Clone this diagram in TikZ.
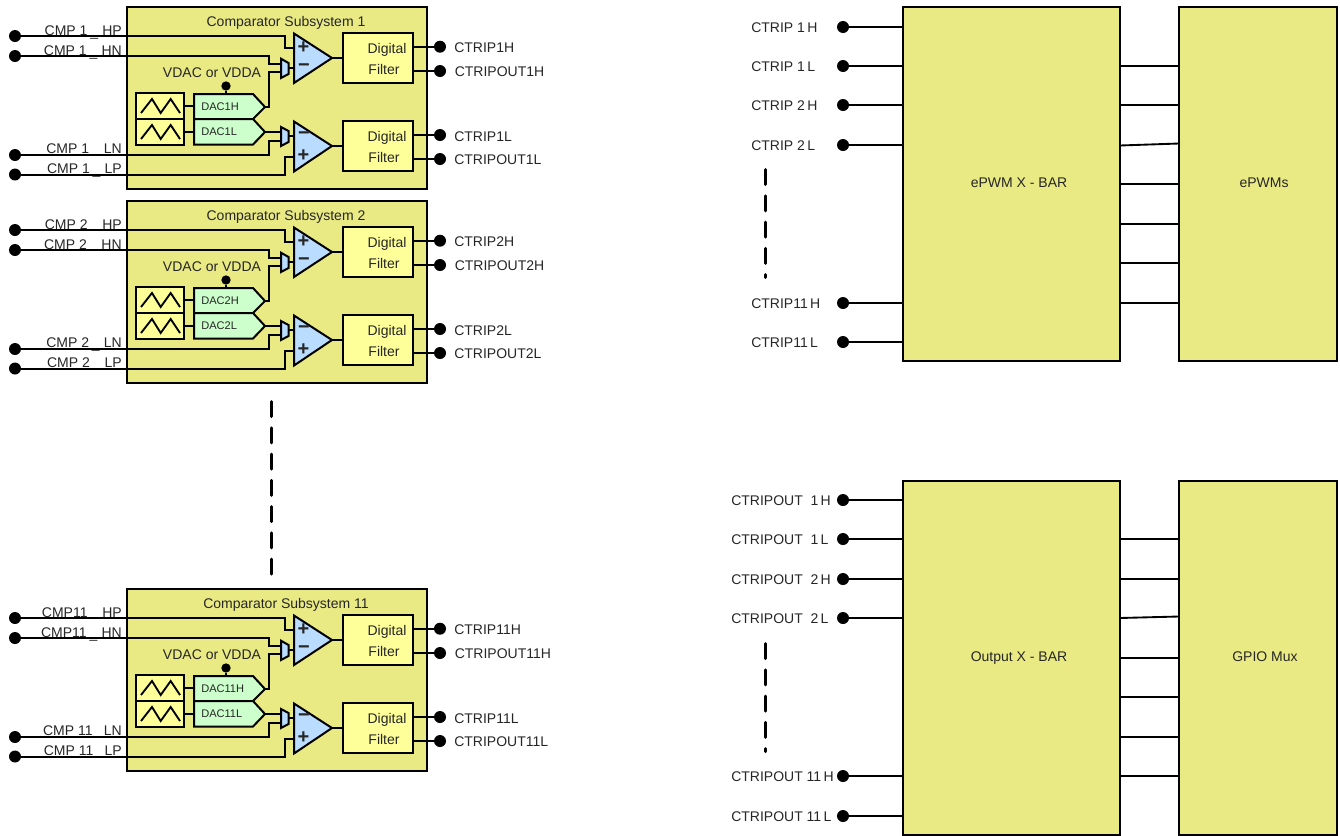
\documentclass[tikz,border=0pt]{standalone}
\usepackage{fontspec}
\setmainfont{Liberation Sans}
\definecolor{blockyellow}{HTML}{EAEA85}
\definecolor{filteryellow}{HTML}{FFFF99}
\definecolor{dacgreen}{HTML}{CCFFCC}
\definecolor{ampblue}{HTML}{B9DCFF}
\newcommand{\cgap}{\hspace{1.05em}}
\newcommand{\cbar}{\hspace{.2em}\raisebox{-.14em}{\_}\hspace{.3em}}
\tikzset{
  wire/.style={line width=1.5pt},
  thinwire/.style={line width=1.4pt},
  box/.style={draw=black,line width=1.5pt,inner sep=0pt,outer sep=0pt,anchor=north west},
  subsys/.style={box,fill=blockyellow,minimum width=225pt,minimum height=136.5pt},
  xbar/.style={box,fill=blockyellow,minimum width=162.75pt,minimum height=265.5pt},
  sink/.style={box,fill=blockyellow,minimum width=118.5pt,minimum height=265.5pt},
  filt/.style={box,fill=filteryellow,minimum width=52.5pt,minimum height=37.5pt},
  wave/.style={box,fill=filteryellow,minimum width=36pt,minimum height=19.5pt},
  term/.style={circle,fill=black,inner sep=0pt,outer sep=0pt,minimum size=9pt},
  pin/.style={circle,fill=black,inner sep=0pt,outer sep=0pt,minimum size=7pt},
  lbl/.style={inner sep=0pt,text=black!85,font=\fontsize{10.5}{12}\selectfont,text height=7.5pt,text depth=0pt},
  daclbl/.style={lbl,font=\fontsize{8.3}{10}\selectfont,text height=6pt,anchor=west},
  signlbl/.style={inner sep=0pt,text=black!85,font=\fontsize{15}{15}\selectfont\bfseries},
  groupdash/.style={line width=2.25pt,dash pattern=on 11.25pt off 8.45pt,line cap=round},
}
\begin{document}
\begin{tikzpicture}[x=.75pt,y=-.75pt]
\useasboundingbox (0,0) rectangle (1340,836);
% comparator subsystems
\foreach \n/\dy/\hp/\hn/\ln/\lp in {
  1/0/{CMP 1\cbar HP}/{CMP 1\cbar HN}/{CMP 1\cgap LN}/{CMP 1\cbar LP},
  2/194/{CMP 2\cgap HP}/{CMP 2\cgap HN}/{CMP 2\cbar LN}/{CMP 2\cgap LP},
  11/582/{CMP11\cgap HP}/{CMP11\cbar HN}/{CMP 11\hspace{.8em}LN}/{CMP 11\hspace{.8em}LP}} {
\begin{scope}[shift={(0,\dy)}]
\node[subsys] (sub\n) at (127,7) {};
\node[lbl] (title\n) at (286,21) {Comparator Subsystem \n};
% inputs
\node[term] (hp\n) at (15,36) {};
\node[term] (hn\n) at (15,56) {};
\node[term] (ln\n) at (15,155) {};
\node[term] (lp\n) at (15,174.5) {};
\node[lbl,anchor=east] (hptext\n) at (122,30) {\hp};
\node[lbl,anchor=east] (hntext\n) at (122,50) {\hn};
\node[lbl,anchor=east] (lntext\n) at (122,148) {\ln};
\node[lbl,anchor=east] (lptext\n) at (122,168) {\lp};
% amplifiers and muxes
\coordinate (ahp\n) at (294,48);
\coordinate (ahn\n) at (294,68);
\coordinate (aln\n) at (294,136);
\coordinate (alp\n) at (294,157);
\coordinate (ahout\n) at (332,58);
\coordinate (alout\n) at (332,146);
\coordinate (mhn\n) at (281,63.5);
\coordinate (mhd\n) at (281,72);
\coordinate (mld\n) at (281,132);
\coordinate (mln\n) at (281,141);
\coordinate (mhout\n) at (288.5,68);
\coordinate (mlout\n) at (288.5,136);
\coordinate (dacho\n) at (265,107);
\coordinate (daclo\n) at (265,132);
\draw[wire] (hp\n) -| (285,48) -- (ahp\n);
\draw[wire] (hn\n) -| (269,63.5) -- (mhn\n);
\draw[wire] (dacho\n) -| (269,72) -- (mhd\n);
\draw[wire] (daclo\n) -- (mld\n);
\draw[wire] (ln\n) -| (269,141) -- (mln\n);
\draw[wire] (lp\n) -| (285,157) -- (alp\n);
\draw[wire] (mhout\n) -- (ahn\n);
\draw[wire] (mlout\n) -- (aln\n);
\draw[wire,fill=ampblue,line join=miter] (281,58.7) -- (288.5,63) -- (288.5,74) -- (281,78) -- cycle;
\draw[wire,fill=ampblue,line join=miter] (281,127) -- (288.5,131) -- (288.5,142) -- (281,146) -- cycle;
\draw[wire,fill=ampblue,line join=miter] (294,33.5) -- (ahout\n) -- (294,83) -- cycle;
\draw[wire,fill=ampblue,line join=miter] (294,121.5) -- (alout\n) -- (294,171.5) -- cycle;
\node[signlbl] (sa\n) at (303.5,48) {+};
\node[signlbl] (sb\n) at (304,68) {−};
\node[signlbl] (sc\n) at (304,136) {−};
\node[signlbl] (sd\n) at (303.5,156) {+};
% digital filters
\node[filt] (fh\n) at (343,33) {};
\node[filt] (fl\n) at (343,121) {};
\node[lbl] (fhd\n) at (387,48) {Digital};
\node[lbl] (fhf\n) at (384,69) {Filter};
\node[lbl] (fld\n) at (387,136) {Digital};
\node[lbl] (flf\n) at (384,157) {Filter};
\draw[wire] (ahout\n) -- (ahout\n -| fh\n.west);
\draw[wire] (alout\n) -- (alout\n -| fl\n.west);
% outputs
\node[term] (th\n) at (440,46.7) {};
\node[term] (toh\n) at (440,71) {};
\node[term] (tl\n) at (440,135) {};
\node[term] (tol\n) at (440,159) {};
\draw[wire] (th\n) -- (th\n -| fh\n.east);
\draw[wire] (toh\n) -- (toh\n -| fh\n.east);
\draw[wire] (tl\n) -- (tl\n -| fl\n.east);
\draw[wire] (tol\n) -- (tol\n -| fl\n.east);
\node[lbl,anchor=west] (thtext\n) at (454,47) {CTRIP\n H};
\node[lbl,anchor=west] (tohtext\n) at (454.5,71.5) {CTRIPOUT\n H};
\node[lbl,anchor=west] (tltext\n) at (454,136) {CTRIP\n L};
\node[lbl,anchor=west] (toltext\n) at (454,159) {CTRIPOUT\n L};
% dacs
\node[wave] (wh\n) at (136,93) {};
\node[wave] (wl\n) at (136,119) {};
\draw[thinwire] (141,113) -- (152,99) -- (160.7,113) -- (170.7,99) -- (180,113);
\draw[thinwire] (141,139) -- (152,125) -- (160.7,139) -- (170.7,125) -- (180,139);
\draw[wire,fill=dacgreen] (194,94) -- (253,94) -- (dacho\n) -- (253,119) -- (194,119) -- cycle;
\draw[wire,fill=dacgreen] (194,119) -- (253,119) -- (daclo\n) -- (253,144.5) -- (194,144.5) -- cycle;
\draw[wire] (wh\n.east) -- (194,106);
\draw[wire] (wl\n.east) -- (194,132);
\node[daclbl] (dh\n) at (201,106) {DAC\n H};
\node[daclbl] (dl\n) at (201,131.5) {DAC\n L};
\node[pin] (vref\n) at (226,86) {};
\draw[wire] (vref\n) -- (226,94);
\node[lbl] (vtext\n) at (212,72) {VDAC or VDDA};
\end{scope}
}
\draw[groupdash] (271,401.5) -- (271,575.5);
% ePWM side
\node[xbar] (epwmbar) at (903,7) {};
\node[sink] (epwms) at (1179,7) {};
\node[lbl] (epwmbartext) at (1019,182) {ePWM X -  BAR};
\node[lbl] (epwmstext) at (1264,182) {ePWMs};
\foreach \y/\nm/\t in {27/a/CTRIP 1\,H,66/b/CTRIP 1\,L,105/c/CTRIP 2\,H,145/d/CTRIP 2\,L,303/e/CTRIP11\,H,342/f/CTRIP11\,L} {
  \node[term] (ct\nm) at (843,\y) {};
  \node[lbl,anchor=west] (cttext\nm) at (751,\y+.5) {\t};
  \draw[thinwire] (ct\nm) -- (ct\nm -| epwmbar.west);
}
\foreach \y in {66,105,184,224,263,303}
  \draw[thinwire] (epwmbar.east |- 0,\y) -- (epwms.west |- 0,\y);
\draw[thinwire] (epwmbar.east |- 0,145.5) -- (epwms.west |- 0,143.5);
\draw[groupdash] (765,169.5) -- (765,277.5);
% output side
\node[xbar] (outbar) at (903,480.5) {};
\node[sink] (gpio) at (1179,480.5) {};
\node[lbl] (outbartext) at (1019,656) {Output X -  BAR};
\node[lbl] (gpiotext) at (1265,656) {GPIO Mux};
\foreach \y/\nm/\t in {500/a/CTRIPOUT\ \ 1\,H,539/b/CTRIPOUT\ \ 1\,L,579/c/CTRIPOUT\ \ 2\,H,618/d/CTRIPOUT\ \ 2\,L,776/e/CTRIPOUT 11\,H,816/f/CTRIPOUT 11\,L} {
  \node[term] (co\nm) at (843,\y) {};
  \node[lbl,anchor=west] (cotext\nm) at (731,\y+.5) {\t};
  \draw[thinwire] (co\nm) -- (co\nm -| outbar.west);
}
\foreach \y in {539,579,658,697,737,776}
  \draw[thinwire] (outbar.east |- 0,\y) -- (gpio.west |- 0,\y);
\draw[thinwire] (outbar.east |- 0,618) -- (gpio.west |- 0,616.5);
\draw[groupdash] (765,643.5) -- (765,751.5);
\end{tikzpicture}
\end{document}
